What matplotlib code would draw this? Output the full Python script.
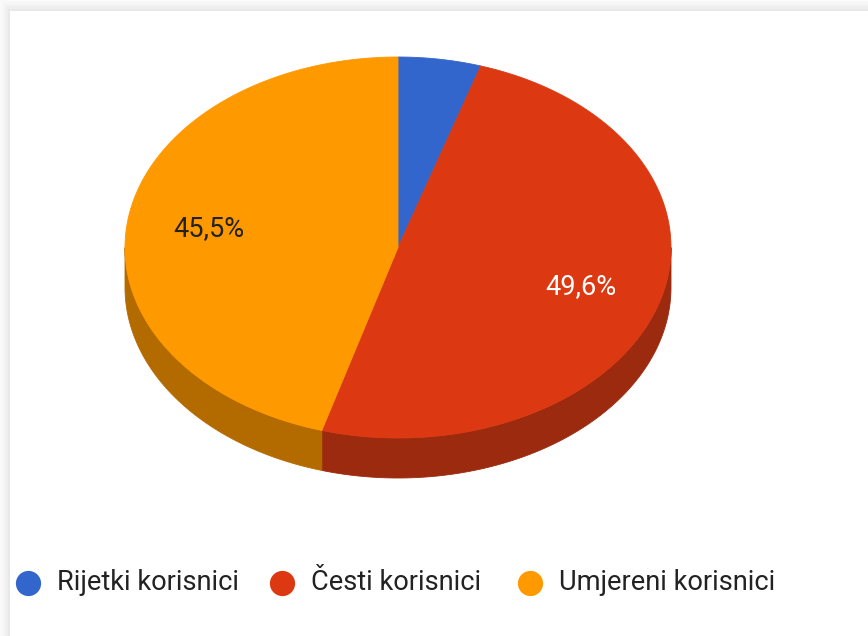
import matplotlib.pyplot as plt
import numpy as np
from matplotlib.patches import Polygon, Rectangle

plt.rcParams['font.family'] = ['Roboto', 'DejaVu Sans']

# data
categories = ['Rijetki korisnici', 'Česti korisnici', 'Umjereni korisnici']
shares = [4.9, 49.6, 45.5]
labels = ['', '49,6%', '45,5%']

top_colors = ['#3366cc', '#dc3912', '#ff9900']
side_colors = ['#24478f', '#9b2a0f', '#b36b00']
label_colors = ['#ffffff', '#ffffff', '#222222']

# pie geometry (pixels)
cx, cy = 398, 247.5
rx, ry = 273, 190.5
depth = 40


def pt(theta, f=1.0, dy=0.0):
    # theta: degrees clockwise from 12 o'clock
    t = np.radians(theta)
    return cx + f * rx * np.sin(t), cy - f * ry * np.cos(t) + dy


fig = plt.figure(figsize=(8.68, 6.36), dpi=100)
ax = fig.add_axes([0, 0, 1, 1])
ax.set_xlim(0, 868)
ax.set_ylim(636, 0)
ax.axis('off')

# page background + soft card shadow
fig.patch.set_facecolor('#fafafa')
for i, a in enumerate([0.012, 0.015, 0.018, 0.022]):
    ax.add_patch(Rectangle((10 - (4 - i) * 2, 11 - (4 - i) * 2.5), 900, 700,
                           facecolor='#000000', alpha=a, lw=0))
ax.add_patch(Rectangle((10, 11), 900, 700, facecolor='white', lw=0))

# slice angles
bounds = np.concatenate([[0], np.cumsum(shares)]) / sum(shares) * 360

# side walls (front half only: 90..270 deg)
for i in range(len(shares)):
    a0, a1 = max(bounds[i], 90), min(bounds[i + 1], 270)
    if a1 <= a0:
        continue
    th = np.linspace(a0, a1, 200)
    upper = [pt(t) for t in th]
    lower = [pt(t, dy=depth) for t in th[::-1]]
    ax.add_patch(Polygon(upper + lower, closed=True, facecolor=side_colors[i],
                         edgecolor=side_colors[i], lw=0.6))

# top faces
for i in range(len(shares)):
    th = np.linspace(bounds[i], bounds[i + 1], 300)
    verts = [(cx, cy)] + [pt(t) for t in th]
    ax.add_patch(Polygon(verts, closed=True, facecolor=top_colors[i],
                         edgecolor=top_colors[i], lw=0.6))

# percentage labels
for i in range(len(shares)):
    if not labels[i]:
        continue
    mid = (bounds[i] + bounds[i + 1]) / 2
    x, y = pt(mid, f=0.70)
    ax.text(x, y, labels[i], color=label_colors[i], fontsize=19.5,
            ha='center', va='center')

# legend
leg_x = [28, 282, 530]
leg_y = 583
for i, name in enumerate(categories):
    ax.scatter([leg_x[i]], [leg_y], s=330, color=top_colors[i], lw=0)
    ax.text(leg_x[i] + 29, leg_y - 1, name, color='#222222', fontsize=19.6,
            ha='left', va='center')

fig.savefig('out.png', dpi=100, facecolor=fig.get_facecolor())
